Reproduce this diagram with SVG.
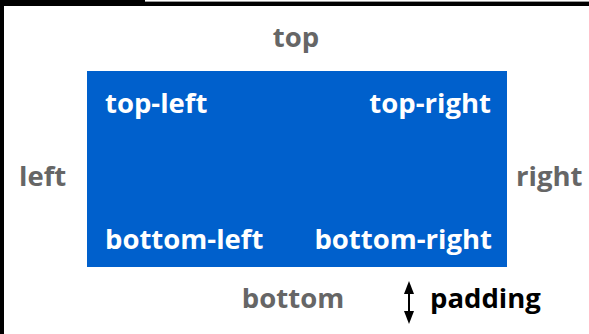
<svg xmlns="http://www.w3.org/2000/svg" width="589" height="334" viewBox="0 0 589 334">
<style>
.lbl{font-family:"Open Sans","Liberation Sans",sans-serif;font-weight:bold;font-size:27.5px}
.out{fill:#666666}
.in{fill:#ffffff}
.pad{fill:#000000}
.head{fill:#000}
</style>
<rect x="0" y="0" width="589" height="334" fill="#fff"/>
<g id="frame">
<rect x="0" y="0" width="145" height="6" fill="#000"/>
<rect x="145" y="1" width="444" height="1" fill="#999"/>
<rect x="145" y="2" width="444" height="4" fill="#000"/>
<rect x="0" y="0" width="4" height="334" fill="#000"/>
</g>
<g id="box">
<rect x="87" y="71" width="420" height="196" fill="#0060CC"/>
<text class="lbl in" x="105" y="113">top-left</text>
<text class="lbl in" x="491" y="113" text-anchor="end">top-right</text>
<text class="lbl in" x="105" y="249">bottom-left</text>
<text class="lbl in" x="492" y="249" text-anchor="end">bottom-right</text>
</g>
<g id="outside">
<text class="lbl out" x="296" y="47" text-anchor="middle">top</text>
<text class="lbl out" x="19" y="186">left</text>
<text class="lbl out" x="516" y="186">right</text>
<text class="lbl out" x="293" y="308" text-anchor="middle">bottom</text>
</g>
<g id="connectors">
<line x1="409" y1="290" x2="409" y2="314" stroke="#000" stroke-width="2"/>
<path class="head" d="M409,281 L414,294 L404,294 Z"/>
<path class="head" d="M409,324 L414,311 L404,311 Z"/>
</g>
<g id="legend">
<text class="lbl pad" x="430" y="308">padding</text>
</g>
</svg>
